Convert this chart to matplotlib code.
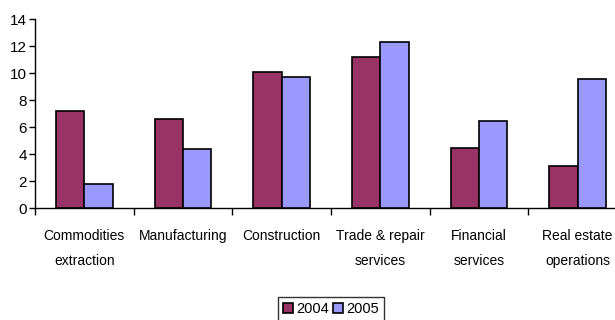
import matplotlib
matplotlib.use("Agg")
import matplotlib.pyplot as plt
import numpy as np
from matplotlib import font_manager

# data
categories = ["Commodities\nextraction", "Manufacturing", "Construction",
              "Trade & repair\nservices", "Financial\nservices", "Real estate\noperations"]
v2004 = [7.2, 6.6, 10.1, 11.2, 4.5, 3.1]
v2005 = [1.8, 4.4, 9.7, 12.3, 6.5, 9.6]

names = {f.name for f in font_manager.fontManager.ttflist}
narrow = "Liberation Sans Narrow" if "Liberation Sans Narrow" in names else "Liberation Sans"
plt.rcParams["font.family"] = [narrow, "DejaVu Sans"]

fig = plt.figure(figsize=(6.15, 3.2), dpi=100)
ax = fig.add_axes([35/615, 1-208.3/320, 592/615, (208.3-19.3)/320])

x = np.arange(len(categories))
w = 1/3.5
ax.bar(x - w/2, v2004, w, color="#993366", edgecolor="black", linewidth=1.2, label="2004", zorder=3)
ax.bar(x + w/2, v2005, w, color="#9999FF", edgecolor="black", linewidth=1.2, label="2005", zorder=3)

ax.set_xlim(-0.5, len(categories) - 0.5)
ax.set_ylim(0, 14)
ax.set_yticks(np.arange(0, 15, 2))
ax.tick_params(axis="y", length=4, width=1, labelsize=11, pad=2)
ax.set_xticks(x)
ax.set_xticklabels(categories, fontsize=10, linespacing=1.95)
ax.set_xticks(np.arange(len(categories)) - 0.5, minor=True)
ax.tick_params(axis="x", which="major", length=0, pad=15)
ax.tick_params(axis="x", which="minor", length=5, width=1)

for s in ["top", "right"]:
    ax.spines[s].set_visible(False)
ax.spines["left"].set_linewidth(1)
ax.spines["bottom"].set_linewidth(1)

leg = fig.legend(loc="upper center", bbox_to_anchor=(331/615, 1-290/320), ncol=2,
                 fontsize=10.5, frameon=True, fancybox=False, edgecolor="black",
                 handlelength=0.7, handleheight=0.7, handletextpad=0.2,
                 columnspacing=0.3, borderpad=0.35)
leg.get_frame().set_linewidth(1)

fig.savefig("out.png", dpi=100)
